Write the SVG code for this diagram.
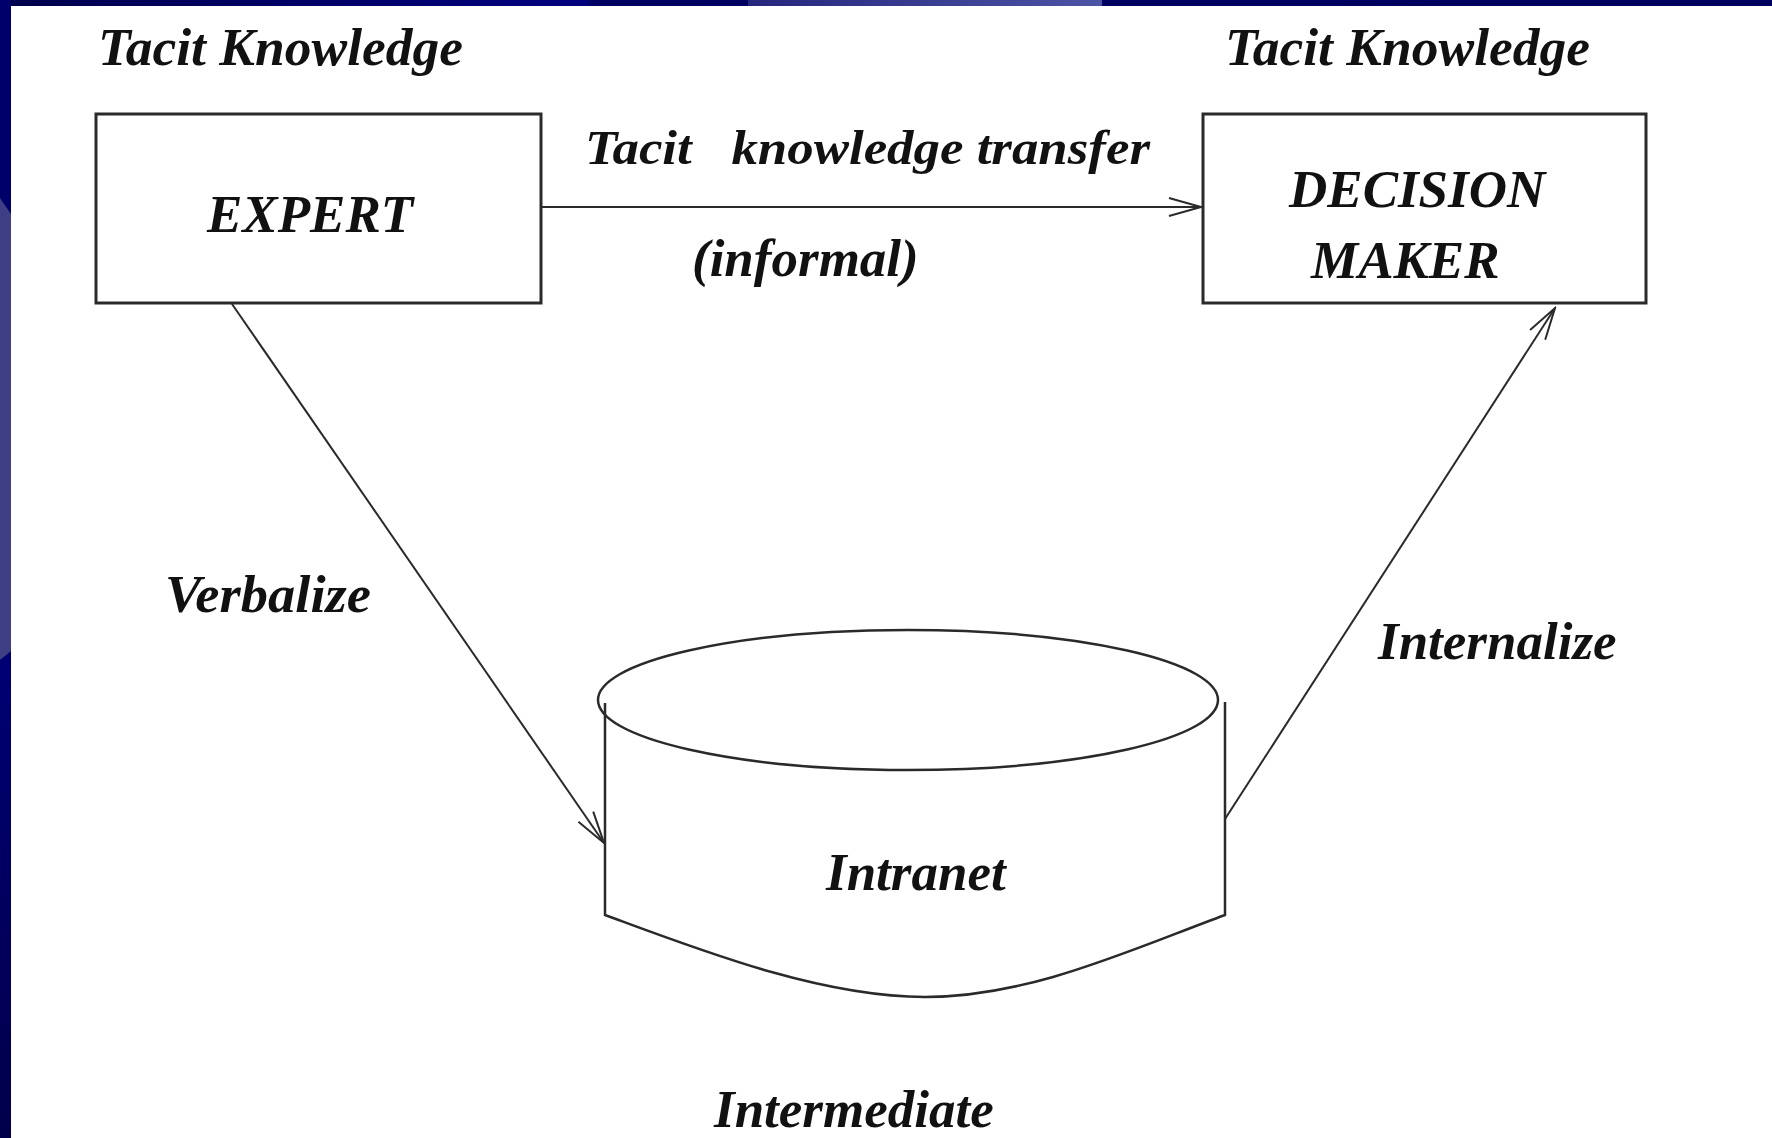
<svg xmlns="http://www.w3.org/2000/svg" width="1772" height="1138" viewBox="0 0 1772 1138">
<defs>
<style>
.t{font-family:"Liberation Serif","Times New Roman",serif;font-weight:bold;font-style:italic;font-size:53px;fill:#111}
.box{fill:#fff;stroke:#2a2a2a;stroke-width:3}
.shape{fill:none;stroke:#2a2a2a;stroke-width:2.5}
.conn{fill:none;stroke:#2a2a2a;stroke-width:2}
</style>
<marker id="arr" markerUnits="userSpaceOnUse" markerWidth="36" markerHeight="22" viewBox="0 0 36 22" refX="34" refY="11" orient="auto">
<path d="M2,2 L34,11 L2,20" fill="none" stroke="#2a2a2a" stroke-width="2"/>
</marker>
<linearGradient id="topg" x1="0" y1="0" x2="1772" y2="0" gradientUnits="userSpaceOnUse">
<stop offset="0" stop-color="#00004c"/>
<stop offset="0.33" stop-color="#00007e"/>
<stop offset="0.335" stop-color="#000062"/>
<stop offset="1" stop-color="#00005e"/>
</linearGradient>
<linearGradient id="lightg" x1="748" y1="0" x2="1102" y2="0" gradientUnits="userSpaceOnUse">
<stop offset="0" stop-color="#26267c"/>
<stop offset="1" stop-color="#4c54a4"/>
</linearGradient>
<linearGradient id="leftg" x1="0" y1="655" x2="0" y2="1138" gradientUnits="userSpaceOnUse">
<stop offset="0" stop-color="#000074"/>
<stop offset="1" stop-color="#00004a"/>
</linearGradient>
</defs>
<rect x="0" y="0" width="1772" height="1138" fill="#fff"/>
<g id="frame">
<rect x="0" y="0" width="1772" height="6" fill="url(#topg)"/>
<rect x="748" y="0" width="354" height="6" fill="url(#lightg)"/>
<rect x="0" y="0" width="11" height="1138" fill="url(#leftg)"/>
<rect x="0" y="0" width="11" height="220" fill="#00006a"/>
<polygon points="0,198 11,214 11,651 0,660" fill="#3e3e84"/>
</g>
<g id="labels-top">
<text class="t" x="98" y="65" textLength="365" lengthAdjust="spacingAndGlyphs">Tacit Knowledge</text>
<text class="t" x="1225" y="65" textLength="365" lengthAdjust="spacingAndGlyphs">Tacit Knowledge</text>
</g>
<g id="expert">
<rect class="box" x="96" y="114" width="445" height="189"/>
<text class="t" x="207" y="232">EXPERT</text>
</g>
<g id="decision-maker">
<rect class="box" x="1203" y="114" width="443" height="189"/>
<text class="t" x="1289" y="207">DECISION</text>
<text class="t" x="1311" y="278">MAKER</text>
</g>
<g id="intranet">
<path class="shape" d="M605,703 L605,915 C700,950 820,997 925,997 C1030,997 1130,950 1225,915 L1225,702"/>
<ellipse class="shape" cx="908" cy="700" rx="310" ry="70"/>
<text class="t" x="826" y="890">Intranet</text>
</g>
<g id="intermediate-label">
<text class="t" x="714" y="1127">Intermediate</text>
</g>
<g id="connectors">
<line class="conn" x1="541" y1="207" x2="1201" y2="207" marker-end="url(#arr)"/>
<line class="conn" x1="232" y1="304" x2="604" y2="843" marker-end="url(#arr)"/>
<line class="conn" x1="1225" y1="819" x2="1555" y2="308" marker-end="url(#arr)"/>
<text class="t" x="585" y="164" textLength="565" lengthAdjust="spacingAndGlyphs" xml:space="preserve" style="font-size:48px">Tacit   knowledge transfer</text>
<text class="t" x="692" y="276">(informal)</text>
<text class="t" x="165" y="612" textLength="206" lengthAdjust="spacingAndGlyphs">Verbalize</text>
<text class="t" x="1378" y="659">Internalize</text>
</g>
</svg>
